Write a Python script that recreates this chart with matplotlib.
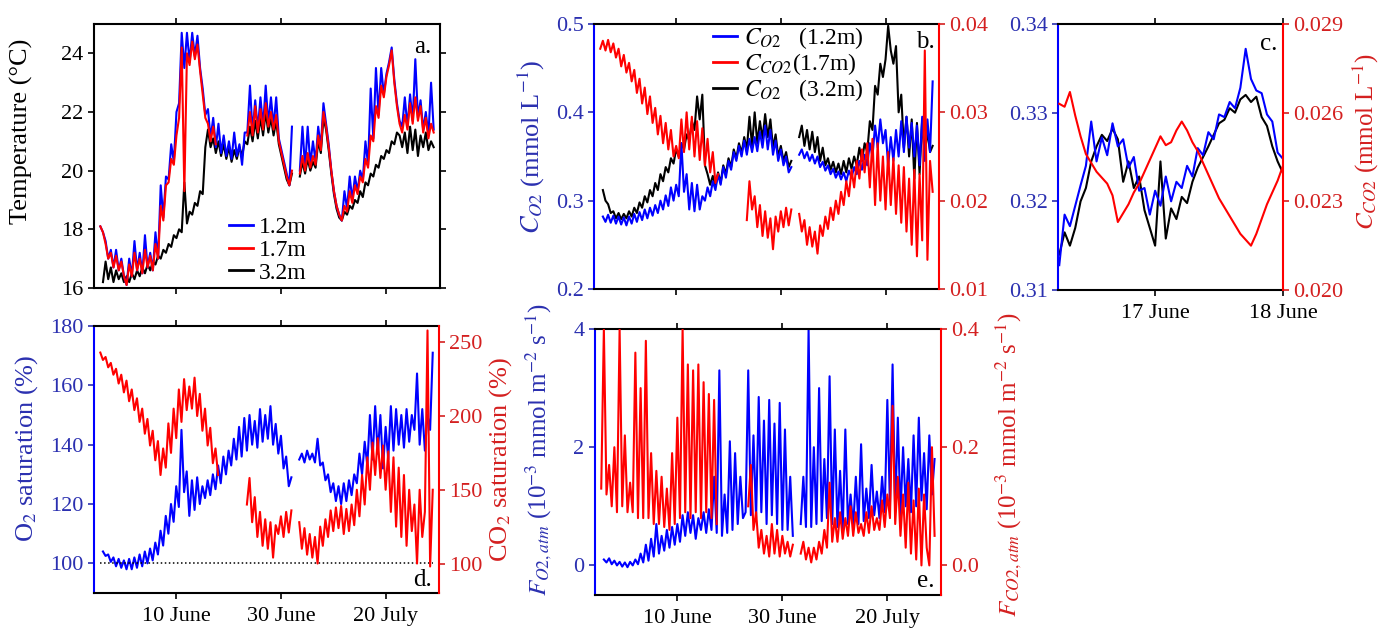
#!/usr/bin/env python
# coding: utf-8

    #========= IMPORTS ===================================================#

import numpy as np
import matplotlib
matplotlib.use("Agg")
import matplotlib.pyplot as plt
from matplotlib.lines import Line2D
from matplotlib.ticker import FormatStrFormatter

    #========= DATA ======================================================#

NA = np.nan

# sampling times in days since 1 June, half-day steps (26 May -> 29 July)
DAYS = np.arange(128) * 0.5 - 5.5
DATE_TICKS = [9, 29, 49]
DATE_LABELS = ["10 June", "30 June", "20 July"]

# panel c : hourly, day of June
HOURS = 16.25 + np.arange(43) / 24.0
C_TICKS = [17, 18]
C_LABELS = ["17 June", "18 June"]

# a. temperature (degC)
TEMP_12 = [
    18.1, 17.9, 17.6, 17.0, 17.3, 16.7, 17.3, 16.6, 17.0, 16.4,
    16.1, 17.0, 16.4, 17.6, 16.6, 17.2, 16.5, 17.8, 16.7, 17.2,
    16.6, 17.9, 17.0, 19.5, 18.4, 19.8, 19.7, 20.9, 20.3, 22.0,
    22.3, 24.7, 23.5, 24.7, 23.7, 24.7, 23.9, 24.6, 23.5, 22.8,
    21.9, 22.1, 21.1, 21.8, 20.8, 21.6, 20.6, 21.2, 20.5, 21.0,
    20.4, 21.3, 20.5, 20.9, 20.2, 21.3, 21.3, 22.9, 21.3, 22.4,
    21.4, 22.5, 21.5, 22.9, 21.6, 22.5, 21.5, 22.5, 21.1, 20.7,
    20.3, 19.9, 19.5, 21.5, NA, NA, 20.0, 21.5, 20.1, 21.5,
    20.2, 21.0, 20.3, 21.5, 20.8, 22.3, 21.6, 20.9, 20.0, 19.3,
    18.8, 18.5, 18.3, 19.3, 18.7, 19.8, 19.0, 19.8, 19.3, 20.0,
    19.7, 21.0, 20.2, 22.8, 21.1, 23.5, 21.9, 23.5, 22.6, 23.3,
    23.7, 24.2, 23.1, 22.3, 21.7, 21.5, 22.5, 21.5, 22.6, 21.7,
    23.8, 21.8, 22.4, 21.4, 22.0, 21.2, 23.0, 21.4]
TEMP_17 = [
    18.1, 17.9, 17.5, 17.0, 17.2, 16.7, 17.1, 16.6, 16.9, 16.4,
    16.1, 16.8, 16.4, 17.2, 16.6, 17.0, 16.5, 17.3, 16.7, 17.1,
    16.6, 17.5, 17.0, 18.8, 18.3, 19.5, 19.6, 20.4, 20.2, 21.2,
    21.8, 24.2, 19.3, 24.0, 23.6, 24.4, 23.8, 24.3, 23.4, 22.6,
    21.8, 21.6, 21.0, 21.5, 20.9, NA, NA, NA, NA, NA,
    NA, NA, NA, NA, NA, NA, 21.2, 22.0, 21.2, 22.2,
    21.3, 22.1, 21.4, 22.3, 21.5, 22.0, 21.4, 21.9, 21.0, 20.6,
    20.2, 19.8, 19.5, 20.0, NA, NA, 19.9, 20.5, 20.0, 20.6,
    20.1, 20.5, 20.2, 21.2, 20.7, 22.0, 21.5, 20.8, 20.0, 19.3,
    18.8, 18.5, 18.3, 18.8, 18.6, 19.3, 18.9, 19.5, 19.2, 19.8,
    19.6, 20.4, 20.1, 21.2, 21.0, 22.2, 21.8, 22.9, 22.5, 23.2,
    23.6, 24.1, 23.0, 22.2, 21.6, 21.3, 21.9, 21.4, 22.3, 21.6,
    22.5, 21.7, 22.2, 21.3, 21.8, 21.1, 21.6, 21.3]
TEMP_32 = [
    NA, 16.2, 16.9, 16.3, 16.7, 16.2, 16.6, 16.3, 16.5, 16.2,
    16.4, 16.2, 16.5, 16.3, 16.6, 16.4, 16.7, 16.5, 16.8, 16.6,
    16.9, 16.8, 17.1, 17.0, 17.3, 17.2, 17.5, 17.4, 17.8, 17.7,
    18.0, 17.9, 19.6, 18.2, 18.6, 18.5, 18.9, 18.8, 19.3, 19.2,
    20.8, 21.4, 20.8, 21.1, 20.6, 21.0, 20.5, 20.9, 20.4, 20.8,
    20.3, 20.7, 20.4, 20.8, 20.5, 21.0, 20.9, 21.5, 21.0, 21.7,
    21.1, 21.8, 21.2, 22.0, 21.3, 21.8, 21.2, 21.7, 20.9, 20.5,
    20.1, 19.7, 19.5, 19.9, NA, NA, 19.8, 20.3, 19.9, 20.4,
    20.0, 20.3, 20.1, 21.0, 20.6, 21.8, 21.4, 20.7, 19.9, 19.2,
    18.7, 18.4, 18.3, 18.6, 18.5, 18.8, 18.7, 19.0, 18.9, 19.3,
    19.1, 19.6, 19.5, 19.9, 19.8, 20.2, 20.1, 20.5, 20.4, 20.7,
    20.6, 21.0, 20.9, 21.3, 21.2, 20.8, 21.3, 20.6, 21.5, 20.7,
    21.4, 20.5, 21.2, 20.8, 21.3, 20.7, 21.0, 20.8]

# b. dissolved O2 (mmol/L) at 1.2 m and 3.2 m, CO2 at 1.7 m
C_O2_12 = [
    NA, 0.282, 0.276, 0.284, 0.275, 0.283, 0.274, 0.282, 0.273, 0.281,
    0.272, 0.282, 0.274, 0.285, 0.276, 0.287, 0.278, 0.290, 0.280, 0.292,
    0.283, 0.295, 0.286, 0.300, 0.290, 0.306, 0.294, 0.315, 0.300, 0.318,
    0.305, 0.365, 0.310, 0.330, 0.290, 0.320, 0.288, 0.318, 0.290, 0.305,
    0.300, 0.315, 0.305, 0.322, 0.312, 0.330, 0.318, 0.338, 0.326, 0.345,
    0.335, 0.355, 0.345, 0.362, 0.350, 0.368, 0.352, 0.370, 0.355, 0.372,
    0.356, 0.378, 0.360, 0.385, 0.358, 0.380, 0.352, 0.368, 0.345, 0.358,
    0.340, 0.350, 0.332, 0.338, NA, NA, 0.352, 0.358, 0.348, 0.355,
    0.345, 0.352, 0.342, 0.350, 0.338, 0.344, 0.334, 0.340, 0.330, 0.336,
    0.326, 0.333, 0.324, 0.332, 0.322, 0.334, 0.326, 0.338, 0.330, 0.345,
    0.335, 0.352, 0.340, 0.365, 0.350, 0.385, 0.360, 0.392, 0.365, 0.380,
    0.340, 0.372, 0.345, 0.380, 0.350, 0.390, 0.355, 0.395, 0.360, 0.388,
    0.350, 0.385, 0.340, 0.395, 0.345, 0.392, 0.355, 0.435]
C_O2_32 = [
    NA, 0.312, 0.300, 0.296, 0.286, 0.288, 0.280, 0.286, 0.279, 0.285,
    0.280, 0.288, 0.282, 0.292, 0.286, 0.298, 0.292, 0.305, 0.298, 0.312,
    0.305, 0.320, 0.312, 0.330, 0.322, 0.338, 0.332, 0.348, 0.342, 0.358,
    0.350, 0.365, 0.358, 0.375, 0.368, 0.390, 0.380, 0.418, 0.392, 0.420,
    0.340, 0.330, 0.318, 0.328, 0.316, 0.332, 0.320, 0.340, 0.330, 0.348,
    0.338, 0.358, 0.348, 0.365, 0.354, 0.372, 0.358, 0.395, 0.362, 0.400,
    0.365, 0.390, 0.370, 0.398, 0.372, 0.392, 0.360, 0.375, 0.350, 0.362,
    0.345, 0.355, 0.338, 0.345, NA, NA, 0.372, 0.385, 0.362, 0.380,
    0.358, 0.378, 0.355, 0.372, 0.345, 0.360, 0.340, 0.348, 0.335, 0.344,
    0.332, 0.342, 0.330, 0.345, 0.332, 0.348, 0.336, 0.350, 0.340, 0.360,
    0.345, 0.365, 0.355, 0.390, 0.380, 0.430, 0.420, 0.455, 0.440, 0.460,
    0.498, 0.470, 0.455, 0.475, 0.400, 0.420, 0.360, 0.395, 0.350, 0.392,
    0.325, 0.388, 0.330, 0.392, 0.350, 0.380, 0.355, 0.362]
C_CO2_17 = [
    0.0372, 0.0381, 0.0370, 0.0382, 0.0368, 0.0378, 0.0362, 0.0372, 0.0352, 0.0365,
    0.0345, 0.0356, 0.0335, 0.0348, 0.0322, 0.0338, 0.0310, 0.0328, 0.0298, 0.0318,
    0.0288, 0.0305, 0.0275, 0.0296, 0.0265, 0.0288, 0.0258, 0.0280, 0.0250, 0.0262,
    0.0248, 0.0292, 0.0255, 0.0300, 0.0258, 0.0295, 0.0250, 0.0290, 0.0246, 0.0282,
    0.0240, 0.0270, 0.0232, 0.0255, 0.0220, 0.0230, NA, NA, NA, NA,
    NA, NA, NA, NA, NA, NA, 0.0178, 0.0222, 0.0190, 0.0205,
    0.0170, 0.0195, 0.0160, 0.0188, 0.0158, 0.0180, 0.0145, 0.0182, 0.0165, 0.0188,
    0.0170, 0.0192, 0.0172, 0.0190, NA, NA, 0.0185, 0.0165, 0.0178, 0.0150,
    0.0170, 0.0148, 0.0165, 0.0140, 0.0172, 0.0160, 0.0182, 0.0168, 0.0192, 0.0178,
    0.0200, 0.0185, 0.0210, 0.0195, 0.0222, 0.0205, 0.0235, 0.0215, 0.0245, 0.0225,
    0.0258, 0.0232, 0.0265, 0.0215, 0.0270, 0.0195, 0.0265, 0.0200, 0.0250, 0.0190,
    0.0255, 0.0195, 0.0248, 0.0185, 0.0240, 0.0175, 0.0238, 0.0165, 0.0225, 0.0150,
    0.0235, 0.0137, 0.0230, 0.0155, 0.0370, 0.0133, 0.0245, 0.0210]

# c. zoom on 16-18 June
C_O2_12_ZOOM = [
    0.3128, 0.3185, 0.3172, 0.3195, 0.3218, 0.3240, 0.3290, 0.3245, 0.3272, 0.3252,
    0.3288, 0.3262, 0.3270, 0.3238, 0.3250, 0.3212, 0.3215, 0.3185, 0.3212, 0.3195,
    0.3228, 0.3200, 0.3222, 0.3215, 0.3240, 0.3228, 0.3260, 0.3252, 0.3278, 0.3270,
    0.3298, 0.3295, 0.3312, 0.3305, 0.3328, 0.3372, 0.3338, 0.3325, 0.3322, 0.3298,
    0.3290, 0.3255, 0.3248]
C_O2_32_ZOOM = [
    0.3140, 0.3165, 0.3150, 0.3170, 0.3200, 0.3215, 0.3245, 0.3262, 0.3275, 0.3268,
    0.3282, 0.3270, 0.3222, 0.3245, 0.3215, 0.3228, 0.3190, 0.3170, 0.3150, 0.3245,
    0.3158, 0.3192, 0.3180, 0.3205, 0.3198, 0.3222, 0.3238, 0.3250, 0.3262, 0.3275,
    0.3288, 0.3292, 0.3305, 0.3300, 0.3315, 0.3320, 0.3312, 0.3318, 0.3295, 0.3285,
    0.3262, 0.3245, 0.3232]
C_CO2_17_ZOOM = [
    0.0263, 0.0262, 0.0267, 0.0259, 0.0252, 0.0246, 0.0243, 0.0240, 0.0238, 0.0236,
    0.0232, 0.0223, 0.0226, 0.0229, 0.0233, 0.0236, 0.0240, 0.0244, 0.0248, 0.0252,
    0.0249, 0.0250, 0.0254, 0.0257, 0.0254, 0.0250, 0.0247, 0.0243, 0.0239, 0.0235,
    0.0231, 0.0228, 0.0225, 0.0222, 0.0219, 0.0217, 0.0215, 0.0219, 0.0224, 0.0229,
    0.0233, 0.0237, 0.0242]

# d. saturation (%)
O2_SAT = [
    NA, 104.0, 102.5, 103.0, 100.5, 102.0, 99.0, 101.5, 98.5, 101.0,
    98.0, 101.5, 98.0, 102.0, 98.5, 103.0, 99.0, 104.0, 100.0, 105.0,
    101.0, 107.0, 103.0, 111.0, 106.0, 116.0, 110.0, 120.0, 114.0, 126.0,
    119.0, 145.0, 124.0, 131.0, 116.0, 128.0, 118.0, 129.0, 120.0, 126.0,
    122.0, 128.0, 123.0, 130.0, 125.0, 133.0, 127.0, 136.0, 130.0, 138.0,
    133.0, 142.0, 135.0, 146.0, 136.0, 149.0, 138.0, 150.0, 140.0, 148.0,
    139.0, 152.0, 141.0, 150.0, 142.0, 153.0, 140.0, 147.0, 137.0, 143.0,
    132.0, 136.0, 126.0, 129.0, NA, NA, 135.0, 137.0, 134.0, 138.0,
    135.0, 137.0, 134.0, 142.0, 133.0, 134.0, 128.0, 130.0, 124.0, 127.0,
    121.0, 126.0, 120.0, 127.0, 121.0, 128.0, 123.0, 130.0, 127.0, 137.0,
    130.0, 141.0, 133.0, 150.0, 135.0, 153.0, 137.0, 150.0, 132.0, 146.0,
    135.0, 153.0, 138.0, 152.0, 140.0, 150.0, 139.0, 152.0, 141.0, 150.0,
    145.0, 164.0, 140.0, 152.0, 138.0, 150.0, 145.0, 171.0]
CO2_SAT = [
    243.0, 238.0, 240.0, 233.0, 236.0, 228.0, 232.0, 222.0, 228.0, 216.0,
    224.0, 210.0, 218.0, 204.0, 212.0, 196.0, 205.0, 188.0, 198.0, 180.0,
    190.0, 170.0, 183.0, 160.0, 178.0, 165.0, 195.0, 175.0, 205.0, 185.0,
    218.0, 196.0, 225.0, 204.0, 220.0, 205.0, 226.0, 200.0, 215.0, 190.0,
    205.0, 180.0, 192.0, 168.0, 178.0, 160.0, NA, NA, NA, NA,
    NA, NA, NA, NA, NA, NA, 140.0, 158.0, 128.0, 145.0,
    118.0, 135.0, 112.0, 130.0, 110.0, 128.0, 104.0, 126.0, 120.0, 132.0,
    118.0, 135.0, 121.0, 136.0, NA, NA, 128.0, 110.0, 124.0, 106.0,
    120.0, 104.0, 118.0, 100.0, 125.0, 112.0, 130.0, 118.0, 136.0, 122.0,
    138.0, 124.0, 139.0, 120.0, 137.0, 122.0, 140.0, 126.0, 150.0, 132.0,
    160.0, 140.0, 172.0, 150.0, 182.0, 160.0, 185.0, 158.0, 180.0, 150.0,
    176.0, 135.0, 172.0, 125.0, 165.0, 118.0, 160.0, 112.0, 150.0, 122.0,
    140.0, 100.0, 150.0, 118.0, 135.0, 258.0, 98.0, 150.0]

# e. air-water fluxes (1e-3 mmol m-2 s-1)
F_O2 = [
    NA, 0.10, 0.05, 0.12, 0.02, 0.08, 0.00, 0.06, -0.02, 0.05,
    -0.03, 0.06, 0.00, 0.10, 0.02, 0.20, 0.05, 0.35, 0.08, 0.45,
    0.15, 0.70, 0.20, 0.50, 0.25, 0.60, 0.30, 0.65, 0.35, 0.70,
    0.40, 0.85, 0.50, 0.90, 0.55, 0.85, 0.45, 0.80, 0.60, 0.90,
    0.55, 0.95, 0.60, 1.50, 0.55, 3.30, 0.50, 1.20, 0.55, 2.10,
    0.60, 1.90, 0.70, 1.50, 0.80, 0.90, 3.30, 0.85, 2.20, 0.80,
    2.85, 0.90, 2.45, 0.70, 2.80, 0.85, 2.40, 0.70, 2.75, 0.60,
    2.30, 0.60, 1.50, 0.50, NA, NA, 0.70, 1.50, 0.65, 4.00,
    0.65, 2.00, 0.70, 3.00, 0.75, 1.80, 0.80, 3.20, 0.70, 2.30,
    0.65, 1.60, 0.60, 2.30, 0.70, 1.20, 0.65, 1.50, 0.70, 2.05,
    0.75, 1.30, 0.80, 1.70, 0.85, 1.25, 0.80, 1.50, 0.90, 2.80,
    1.00, 3.40, 0.90, 2.50, 0.85, 2.00, 1.00, 1.80, 0.90, 2.20,
    1.00, 2.50, 1.10, 1.90, 0.95, 2.20, 1.20, 1.80]
F_CO2 = [
    0.13, 0.40, 0.12, 0.17, 0.10, 0.20, 0.09, 0.40, 0.10, 0.22,
    0.09, 0.14, 0.09, 0.36, 0.08, 0.30, 0.08, 0.38, 0.08, 0.19,
    0.07, 0.16, 0.07, 0.15, 0.065, 0.13, 0.06, 0.19, 0.07, 0.25,
    0.08, 0.40, 0.09, 0.34, 0.08, 0.33, 0.09, 0.34, 0.08, 0.31,
    0.09, 0.29, 0.08, 0.28, 0.07, NA, NA, NA, NA, NA,
    NA, NA, NA, NA, NA, NA, 0.10, 0.17, 0.06, 0.09,
    0.03, 0.06, 0.02, 0.05, 0.015, 0.07, 0.02, 0.06, 0.015, 0.05,
    0.02, 0.04, 0.015, 0.035, NA, NA, 0.02, 0.04, 0.01, 0.03,
    0.005, 0.03, 0.01, 0.04, 0.02, 0.06, 0.03, 0.14, 0.04, 0.08,
    0.04, 0.09, 0.045, 0.08, 0.05, 0.10, 0.05, 0.09, 0.055, 0.07,
    0.05, 0.09, 0.055, 0.10, 0.06, 0.08, 0.06, 0.11, 0.065, 0.12,
    0.08, 0.27, 0.07, 0.15, 0.05, 0.12, 0.03, 0.14, 0.02, 0.11,
    0.01, 0.13, 0.00, 0.12, 0.03, 0.00, 0.20, 0.05]

    #========= CONSTANTS =================================================#

BLUE = "#0000ff"
RED = "#ff0000"
BLUE_TXT = "#2b30b0"
RED_TXT = "#d42020"
LW = 1.5
TICK = 16
LABEL = 19

plt.rcParams["font.family"] = ["Liberation Serif", "DejaVu Serif"]
plt.rcParams["mathtext.fontset"] = "stix"
plt.rcParams["axes.linewidth"] = 1.5

    #========= HELPERS ===================================================#

def dateAxis(ax, labels):
    ax.set_xlim(-6.7, 59.2)
    ax.set_xticks(DATE_TICKS)
    ax.set_xticklabels(DATE_LABELS if labels else [])
    ax.tick_params(axis="x", top=True, direction="out", length=4, width=1.2,
                   labelsize=TICK, pad=6)

def twinColours(ax, ax2):
    ax.spines["left"].set_color(BLUE)
    ax.spines["right"].set_visible(False)
    for side in ["left", "top", "bottom"]:
        ax2.spines[side].set_visible(False)
    ax2.spines["right"].set_color(RED)
    ax.tick_params(axis="y", colors=BLUE_TXT, direction="out", length=4,
                   width=1.2, labelsize=TICK)
    ax2.tick_params(axis="y", colors=RED_TXT, direction="out", length=4,
                    width=1.2, labelsize=TICK)

def panelLetter(ax, x, y, s, va):
    ax.text(x, y, s, transform=ax.transAxes, ha="right", va=va, fontsize=18,
            zorder=10)

    #========= FIGURE ====================================================#

assert all(len(s) == len(DAYS) for s in [TEMP_12, TEMP_17, TEMP_32, C_O2_12,
           C_O2_32, C_CO2_17, O2_SAT, CO2_SAT, F_O2, F_CO2])

fig = plt.figure(figsize=(13.81, 6.30), dpi=100)

# a. temperature
axA = fig.add_axes([0.0681, 0.5429, 0.2505, 0.4190])
axA.plot(DAYS, TEMP_32, color="black", lw=LW, zorder=1)
axA.plot(DAYS, TEMP_12, color=BLUE, lw=LW, zorder=2)
axA.plot(DAYS, TEMP_17, color=RED, lw=LW, zorder=3)
dateAxis(axA, False)
axA.set_ylim(16, 25)
axA.set_yticks([16, 18, 20, 22, 24])
axA.tick_params(axis="y", right=True, direction="out", length=4, width=1.2,
                labelsize=TICK)
axA.set_ylabel("Temperature (\u00b0C)", fontsize=LABEL)
axA.yaxis.set_label_coords(-0.176, 0.595)
handlesA = [Line2D([], [], color=BLUE, lw=2), Line2D([], [], color=RED, lw=2),
            Line2D([], [], color="black", lw=2)]
axA.legend(handlesA, ["1.2m", "1.7m", "3.2m"], loc="upper left",
           bbox_to_anchor=(0.39, 0.27), frameon=False, fontsize=17,
           handlelength=1.0, handletextpad=0.25, labelspacing=0.05,
           borderpad=0, borderaxespad=0)
panelLetter(axA, 0.975, 0.955, "a.", "top")

# b. concentrations
axB = fig.add_axes([0.4301, 0.5413, 0.2498, 0.4206])
axB.plot(DAYS, C_O2_32, color="black", lw=LW, zorder=1)
axB.plot(DAYS, C_O2_12, color=BLUE, lw=LW, zorder=2)
axB2 = axB.twinx()
axB2.plot(DAYS, C_CO2_17, color=RED, lw=LW)
dateAxis(axB, False)
axB.set_ylim(0.2, 0.5)
axB.set_yticks([0.2, 0.3, 0.4, 0.5])
axB.yaxis.set_major_formatter(FormatStrFormatter("%.1f"))
axB2.set_ylim(0.01, 0.04)
axB2.set_yticks([0.01, 0.02, 0.03, 0.04])
axB2.yaxis.set_major_formatter(FormatStrFormatter("%.2f"))
twinColours(axB, axB2)
axB.set_ylabel("$C_{O2}$ (mmol L$^{-1}$)", fontsize=LABEL, color=BLUE_TXT)
axB.yaxis.set_label_coords(-0.136, 0.536)
handlesB = [Line2D([], [], color=BLUE, lw=2), Line2D([], [], color=RED, lw=2),
            Line2D([], [], color="black", lw=2)]
axB.legend(handlesB, ["$C_{O2}$   (1.2m)", "$C_{CO2}$(1.7m)", "$C_{O2}$   (3.2m)"],
           loc="upper left", bbox_to_anchor=(0.345, 0.995), frameon=False,
           fontsize=17, handlelength=1.0, handletextpad=0.3, labelspacing=0.0,
           borderpad=0, borderaxespad=0)
panelLetter(axB, 0.988, 0.975, "b.", "top")

# c. two days in June
axC = fig.add_axes([0.7661, 0.5397, 0.1629, 0.4222])
axC.plot(HOURS, C_O2_32_ZOOM, color="black", lw=LW, zorder=1)
axC.plot(HOURS, C_O2_12_ZOOM, color=BLUE, lw=LW, zorder=2)
axC2 = axC.twinx()
axC2.plot(HOURS, C_CO2_17_ZOOM, color=RED, lw=LW)
axC.set_xlim(16.24, 18.0)
axC.set_xticks(C_TICKS)
axC.set_xticklabels(C_LABELS)
axC.tick_params(axis="x", top=True, direction="out", length=4, width=1.2,
                labelsize=TICK, pad=6)
axC.set_ylim(0.31, 0.34)
axC.set_yticks([0.31, 0.32, 0.33, 0.34])
axC.yaxis.set_major_formatter(FormatStrFormatter("%.2f"))
axC2.set_ylim(0.020, 0.029)
axC2.set_yticks([0.020, 0.023, 0.026, 0.029])
axC2.yaxis.set_major_formatter(FormatStrFormatter("%.3f"))
twinColours(axC, axC2)
axC2.set_ylabel("$C_{CO2}$ (mmol L$^{-1}$)", fontsize=18, color=RED_TXT)
axC2.yaxis.set_label_coords(1.30, 0.556)
panelLetter(axC, 0.975, 0.965, "c.", "top")

# d. saturation
axD = fig.add_axes([0.0681, 0.0587, 0.2498, 0.4238])
axD.plot(DAYS, O2_SAT, color=BLUE, lw=LW)
axD.hlines(100, DAYS[0], DAYS[-1], colors="black", linestyles=":", lw=1.1)
axD2 = axD.twinx()
axD2.plot(DAYS, CO2_SAT, color=RED, lw=LW)
dateAxis(axD, True)
axD.set_ylim(90, 180)
axD.set_yticks([100, 120, 140, 160, 180])
axD2.set_ylim(80, 261)
axD2.set_yticks([100, 150, 200, 250])
twinColours(axD, axD2)
axD.set_ylabel("O$_2$ saturation (%)", fontsize=LABEL, color=BLUE_TXT)
axD.yaxis.set_label_coords(-0.157, 0.543)
axD2.set_ylabel("CO$_2$ saturation (%)", fontsize=LABEL, color=RED_TXT)
axD2.yaxis.set_label_coords(1.139, 0.5)
panelLetter(axD, 0.98, 0.025, "d.", "baseline")

# e. fluxes
axE = fig.add_axes([0.4308, 0.0556, 0.2505, 0.4222])
axE.plot(DAYS, F_O2, color=BLUE, lw=LW)
axE2 = axE.twinx()
axE2.plot(DAYS, F_CO2, color=RED, lw=LW)
dateAxis(axE, True)
axE.set_ylim(-0.5, 4)
axE.set_yticks([0, 2, 4])
axE2.set_ylim(-0.05, 0.4)
axE2.set_yticks([0.0, 0.2, 0.4])
axE2.yaxis.set_major_formatter(FormatStrFormatter("%.1f"))
twinColours(axE, axE2)
axE.set_ylabel("$F_{O2,atm}$ (10$^{-3}$ mmol m$^{-2}$ s$^{-1}$)",
               fontsize=18, color=BLUE_TXT)
axE.yaxis.set_label_coords(-0.119, 0.545)
axE2.set_ylabel("$F_{CO2,atm}$ (10$^{-3}$ mmol m$^{-2}$ s$^{-1}$)",
                fontsize=18, color=RED_TXT)
axE2.yaxis.set_label_coords(1.151, 0.49)
panelLetter(axE, 0.983, 0.03, "e.", "baseline")

plt.savefig("out.png", dpi=100)
